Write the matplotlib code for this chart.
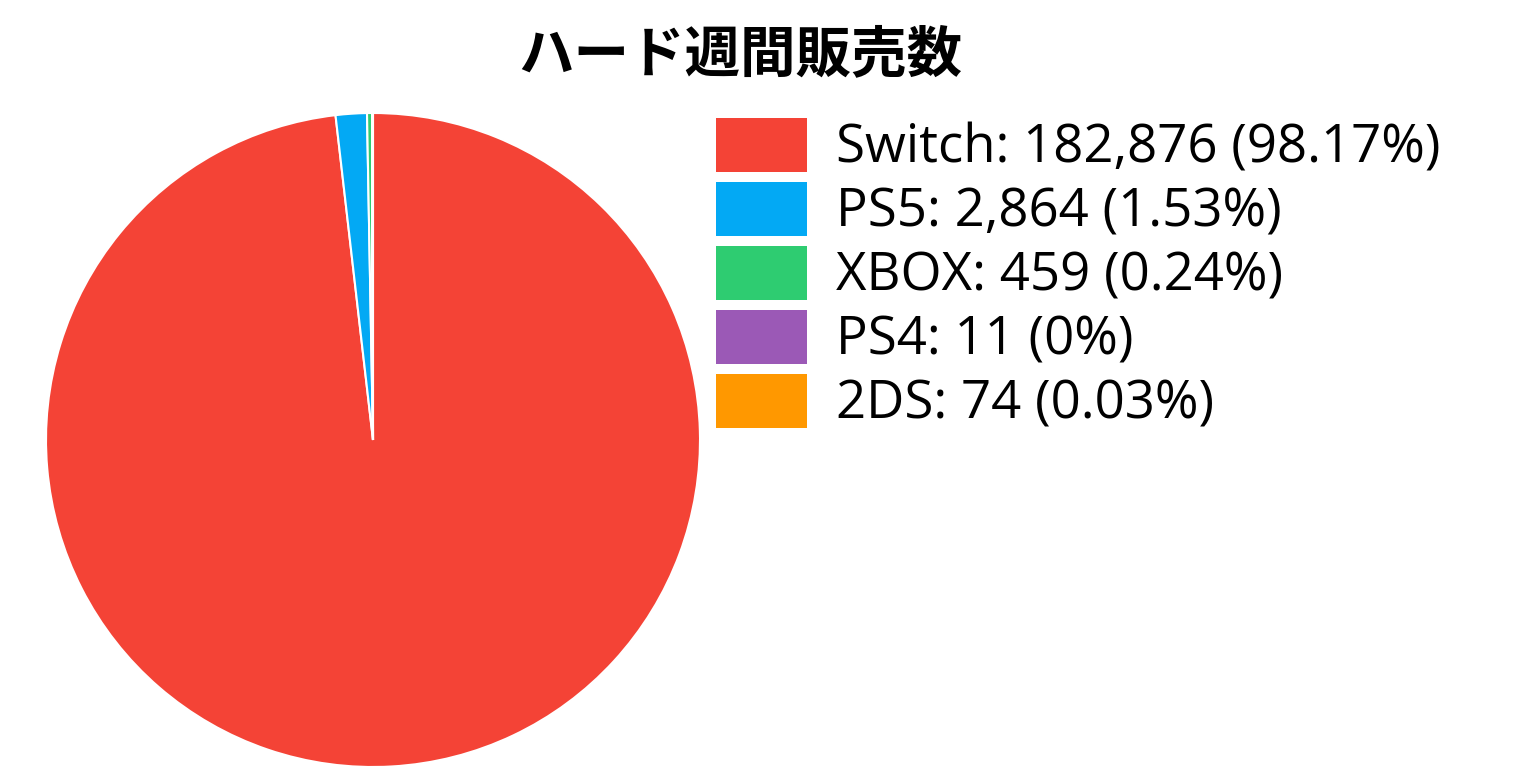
import matplotlib
matplotlib.use('Agg')
import matplotlib.pyplot as plt
from matplotlib.patches import Patch

# weekly hardware sales
names = ['Switch', 'PS5', 'XBOX', 'PS4', '2DS']
units = [182876, 2864, 459, 11, 74]
pcts = ['98.17%', '1.53%', '0.24%', '0%', '0.03%']
colors = ['#F44336', '#03A9F4', '#2ECC71', '#9B59B6', '#FF9800']

plt.rcParams['font.family'] = ['Open Sans', 'DejaVu Sans']

fig = plt.figure(figsize=(15.36, 7.68), dpi=100)
ax = fig.add_axes([46/1536, 1/768, 654/1536, 654/768])

wedges, _ = ax.pie(units, colors=colors, startangle=90, counterclock=False,
                   radius=1, wedgeprops={'edgecolor': 'white', 'linewidth': 1.5})
ax.set_xlim(-1, 1)
ax.set_ylim(-1, 1)
ax.set_aspect('equal')

labels = [f'{n}: {u:,} ({p})' for n, u, p in zip(names, units, pcts)]
handles = [Patch(facecolor=c, edgecolor='none') for c in colors]
fig.legend(handles, labels, loc='upper left',
           bbox_to_anchor=(716/1536, 1 - 118/768), frameon=False,
           fontsize=38, handlelength=1.72, handleheight=1.2,
           handletextpad=0.55, labelspacing=0.115, borderpad=0, borderaxespad=0)

fig.text(0.4818, 1 - 55/768, 'ハード週間販売数', ha='center', va='center',
         fontsize=40, fontweight='bold', family=['Noto Sans CJK JP', 'DejaVu Sans'])

fig.savefig('out.png', dpi=100)
